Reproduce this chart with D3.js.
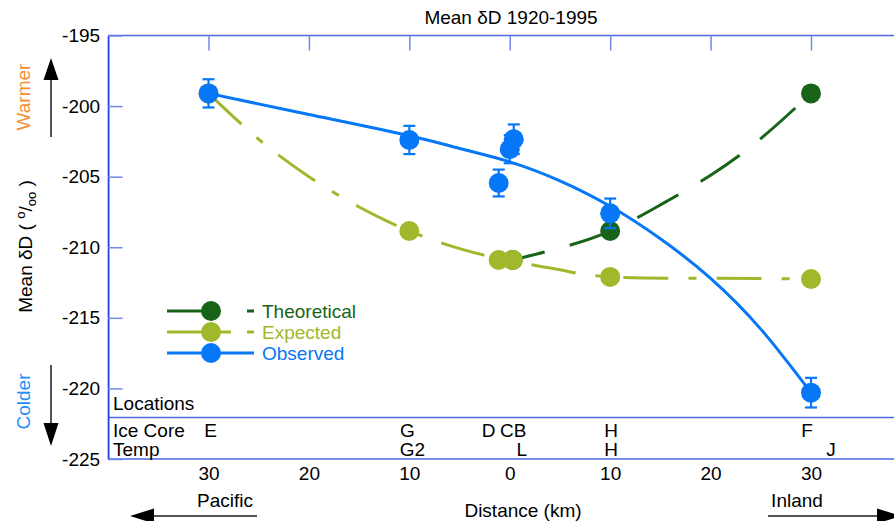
<!DOCTYPE html>
<html>
<head>
<meta charset="utf-8">
<script src="https://cdn.jsdelivr.net/npm/d3@7"></script>
<style>
  body { margin: 0; background: #fff; }
  text { font-family: "Liberation Sans", Arial, sans-serif; }
</style>
</head>
<body>
<script>
// ----- Data -----
// signed distance in km: negative = towards Pacific, positive = inland
const obsDist = [-30, -10, -1.1, 0, 0.4, 10, 30];
const obsVal  = [-199.1, -202.4, -205.45, -203.05, -202.35, -207.6, -220.3];
const obsErr  = [1.0, 1.0, 0.95, 1.0, 1.05, 1.05, 1.05];

const expDist = [-30, -10, -1.1, 0.3, 10, 30];
const expVal  = [-199.1, -208.85, -210.9, -210.9, -212.1, -212.25];

const theoDist = [0.3, 10, 30];
const theoVal  = [-210.9, -208.85, -199.1];

// fitted / smoothed curves as drawn in the picture
const obsFitDist = [-30, -20, -10, -5, 0, 5, 10, 15, 20, 25, 30];
const obsFitVal  = [-199.1, -200.6, -202.1, -203.0, -203.95, -205.3, -207.1, -209.4, -212.2, -215.8, -220.3];
const expCurveDist = [-30, -25, -20, -15, -10, -5, 0, 5, 10, 20, 30];
const expCurveVal  = [-199.1, -202.35, -205.0, -207.15, -208.85, -210.1, -210.95, -211.6, -212.1, -212.2, -212.25];
const theoCurveDist = [0.3, 5, 10, 15, 20, 25, 30];
const theoCurveVal  = [-210.9, -210.05, -208.85, -207.0, -204.9, -202.3, -199.1];

const yTicks = [-195, -200, -205, -210, -215, -220, -225];
const xTicks = [-30, -20, -10, 0, 10, 20, 30];

const iceCoreNames = ["E", "G", "D", "CB", "H", "F"];
const iceCoreDist  = [-29.8, -10.2, -2.1, 0.35, 10.1, 29.6];
const tempNames = ["G2", "L", "H", "J"];
const tempDist  = [-9.7, 1.2, 10.1, 32];

const legendNames = ["Theoretical", "Expected", "Observed"];

// ----- Config -----
const width = 894, height = 521;
const fs = 19;
const axisBlue = "#2440e2", lineBlue = "#4e69e0", tickBlue = "#7088e8";
const cObs = "#0677f7", cExp = "#a0b82b", cTheo = "#176419";

const x = d3.scaleLinear().domain([-30, 30]).range([208.5, 811]);
const y = d3.scaleLinear().domain([-195, -225]).range([35.5, 459]);
const x0 = x(-40);

const svg = d3.select("body").append("svg")
  .attr("width", width).attr("height", height);

const zip = (a, b) => a.map((d, i) => [d, b[i]]);

// ----- Frame and axes -----
svg.append("text")
  .attr("x", 511).attr("y", 24)
  .attr("text-anchor", "middle").attr("font-size", fs)
  .text("Mean δD 1920-1995");

[35.5, 417.5, 459].forEach(v => {
  svg.append("line")
    .attr("x1", x0).attr("x2", width).attr("y1", v).attr("y2", v)
    .attr("stroke", lineBlue).attr("stroke-width", 1.6);
});

svg.append("g")
  .attr("transform", `translate(0,35.5)`)
  .call(d3.axisTop(x).tickValues(xTicks).tickSize(-15).tickFormat(() => ""))
  .call(g => g.select(".domain").remove())
  .call(g => g.selectAll(".tick line").attr("stroke", tickBlue).attr("stroke-width", 1.5));

svg.append("g")
  .attr("transform", `translate(${x0},0)`)
  .call(d3.axisLeft(y).tickValues(yTicks).tickSize(-14.5).tickPadding(8).tickSizeOuter(0)
    .tickFormat(d => String(d)))
  .call(g => g.attr("font-size", fs).attr("font-family", null))
  .call(g => g.select(".domain").attr("stroke", axisBlue).attr("stroke-width", 1.8))
  .call(g => g.selectAll(".tick line").attr("stroke", tickBlue).attr("stroke-width", 1.5))
  .call(g => g.selectAll(".tick text").attr("fill", "#000"));

svg.append("g")
  .attr("transform", `translate(0,459)`)
  .call(d3.axisBottom(x).tickValues(xTicks).tickSize(0).tickPadding(7.5).tickFormat(d => Math.abs(d)))
  .call(g => g.attr("font-size", fs).attr("font-family", null))
  .call(g => g.select(".domain").remove())
  .call(g => g.selectAll(".tick text").attr("fill", "#000"));

// ----- Locations table -----
const loc = svg.append("g").attr("font-size", fs);
loc.append("text").attr("x", 113).attr("y", 410).text("Locations");
loc.append("text").attr("x", 113).attr("y", 437).text("Ice Core");
loc.append("text").attr("x", 113).attr("y", 455.5).text("Temp");
loc.selectAll(".ice").data(zip(iceCoreNames, iceCoreDist)).join("text")
  .attr("x", d => x(d[1])).attr("y", 437).attr("text-anchor", "middle").text(d => d[0]);
loc.selectAll(".tmp").data(zip(tempNames, tempDist)).join("text")
  .attr("x", d => x(d[1])).attr("y", 455.5).attr("text-anchor", "middle").text(d => d[0]);

// ----- Side labels and arrows -----
svg.append("text")
  .attr("transform", "translate(32,246.5) rotate(-90)")
  .attr("text-anchor", "middle").attr("font-size", fs)
  .call(t => {
    t.append("tspan").text("Mean δD ( ");
    t.append("tspan").attr("font-size", 13).attr("dy", -7).text("o");
    t.append("tspan").attr("dy", 7).text("/");
    t.append("tspan").attr("font-size", 13).attr("dy", 4).text("oo");
    t.append("tspan").attr("dy", -4).text(" )");
  });

svg.append("text")
  .attr("transform", "translate(30,97) rotate(-90)")
  .attr("text-anchor", "middle").attr("font-size", fs)
  .attr("fill", "#f98a2c").text("Warmer");
svg.append("text")
  .attr("transform", "translate(30,401.5) rotate(-90)")
  .attr("text-anchor", "middle").attr("font-size", fs)
  .attr("fill", "#1f8ef6").text("Colder");

function arrow(x1, y1, x2, y2, head) {
  const a = Math.atan2(y2 - y1, x2 - x1);
  const bx = x2 - head * Math.cos(a), by = y2 - head * Math.sin(a);
  svg.append("line").attr("x1", x1).attr("y1", y1).attr("x2", bx).attr("y2", by)
    .attr("stroke", "#555").attr("stroke-width", 2);
  const w = 7.5, nx = -Math.sin(a) * w, ny = Math.cos(a) * w;
  svg.append("path")
    .attr("d", `M${x2},${y2}L${bx + nx},${by + ny}L${bx - nx},${by - ny}Z`)
    .attr("fill", "#000");
}
arrow(51, 137, 51, 58, 22);
arrow(51, 365, 51, 446, 23);
arrow(257, 516, 130, 516, 24);
arrow(768, 516, 901, 516, 24);

svg.append("text").attr("x", 225).attr("y", 507).attr("text-anchor", "middle")
  .attr("font-size", fs).text("Pacific");
svg.append("text").attr("x", 797).attr("y", 507).attr("text-anchor", "middle")
  .attr("font-size", fs).text("Inland");
svg.append("text").attr("x", 523).attr("y", 517).attr("text-anchor", "middle")
  .attr("font-size", fs).text("Distance (km)");

// ----- Series -----
const line = d3.line().x(d => x(d[0])).y(d => y(d[1])).curve(d3.curveNatural);
const r = 10;

svg.append("path").datum(zip(theoCurveDist, theoCurveVal))
  .attr("d", line).attr("fill", "none").attr("stroke", cTheo).attr("stroke-width", 3)
  .attr("stroke-dasharray", "47,26").attr("stroke-dashoffset", 14);
svg.selectAll(".theo").data(zip(theoDist, theoVal)).join("circle")
  .attr("cx", d => x(d[0])).attr("cy", d => y(d[1])).attr("r", r).attr("fill", cTheo);

svg.append("path").datum(zip(expCurveDist, expCurveVal))
  .attr("d", line).attr("fill", "none").attr("stroke", cExp).attr("stroke-width", 3)
  .attr("stroke-dasharray", "45,20,8,20");
svg.selectAll(".exp").data(zip(expDist, expVal)).join("circle")
  .attr("cx", d => x(d[0])).attr("cy", d => y(d[1])).attr("r", r).attr("fill", cExp);

svg.append("path").datum(zip(obsFitDist, obsFitVal))
  .attr("d", line).attr("fill", "none").attr("stroke", cObs).attr("stroke-width", 3);

const obs = obsDist.map((d, i) => ({ d, v: obsVal[i], e: obsErr[i] }));
const eb = svg.append("g").attr("stroke", cObs).attr("stroke-width", 2.2);
obs.forEach(o => {
  const cx = x(o.d), y1 = y(o.v + o.e), y2 = y(o.v - o.e);
  eb.append("line").attr("x1", cx).attr("x2", cx).attr("y1", y1).attr("y2", y2);
  eb.append("line").attr("x1", cx - 6).attr("x2", cx + 6).attr("y1", y1).attr("y2", y1);
  eb.append("line").attr("x1", cx - 6).attr("x2", cx + 6).attr("y1", y2).attr("y2", y2);
});
svg.selectAll(".obs").data(obs).join("circle")
  .attr("cx", o => x(o.d)).attr("cy", o => y(o.v)).attr("r", r).attr("fill", cObs);

// ----- Legend -----
const legColors = [cTheo, cExp, cObs];
const legDash = ["50,30", "64,16", null];
const leg = svg.append("g").attr("font-size", fs);
legendNames.forEach((name, i) => {
  const ly = 311 + i * 21;
  leg.append("line").attr("x1", 167).attr("x2", 254).attr("y1", ly).attr("y2", ly)
    .attr("stroke", legColors[i]).attr("stroke-width", 3)
    .attr("stroke-dasharray", legDash[i]);
  leg.append("circle").attr("cx", 211).attr("cy", ly).attr("r", r).attr("fill", legColors[i]);
  leg.append("text").attr("x", 262).attr("y", ly + 7).attr("fill", legColors[i]).text(name);
});
</script>
</body>
</html>
